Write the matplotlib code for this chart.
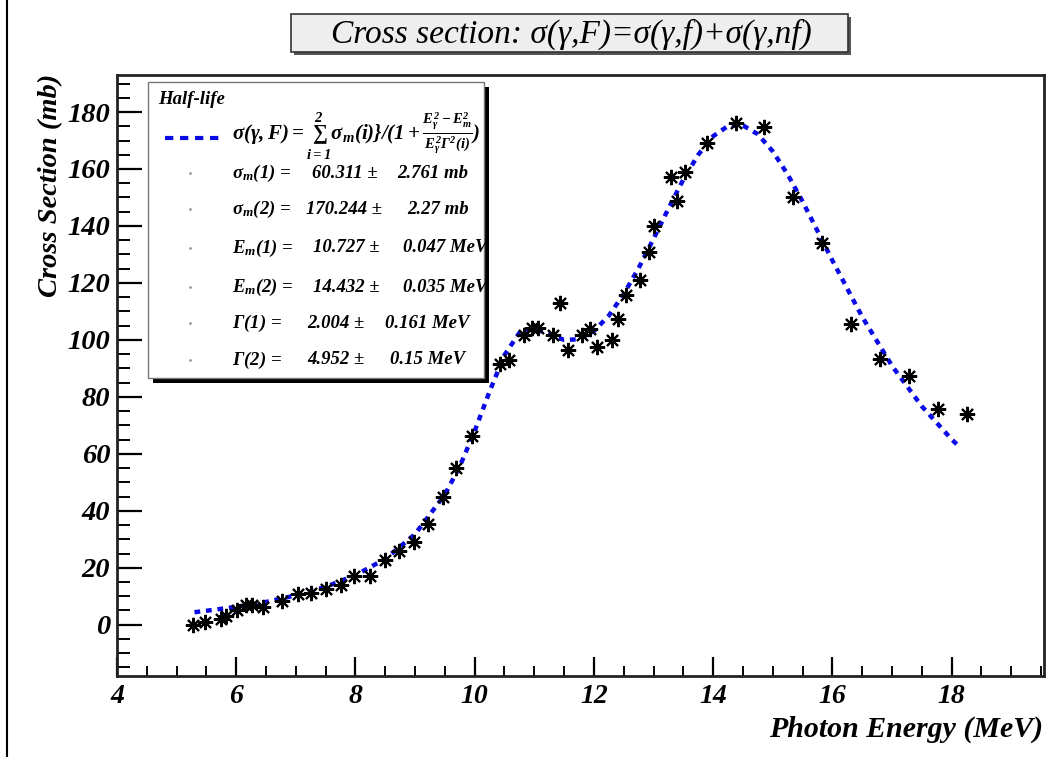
import matplotlib
matplotlib.use('Agg')
import matplotlib.pyplot as plt
from matplotlib.ticker import MultipleLocator
from matplotlib.patches import Rectangle

energy = [5.28, 5.47, 5.74, 5.83, 6.01, 6.16, 6.26, 6.45, 6.77, 7.04, 7.26, 7.51,
          7.75, 7.98, 8.25, 8.49, 8.73, 8.98, 9.22, 9.47, 9.69, 9.95, 10.43, 10.57,
          10.82, 10.96, 11.07, 11.31, 11.43, 11.56, 11.80, 11.93, 12.05, 12.30, 12.41,
          12.54, 12.77, 12.92, 13.01, 13.29, 13.40, 13.53, 13.89, 14.38, 14.85, 15.34,
          15.82, 16.31, 16.80, 17.29, 17.78, 18.26]
sigma = [0.0, 1.0, 2.0, 2.9, 5.0, 7.0, 7.0, 6.4, 8.5, 10.9, 11.3, 12.6,
         14.0, 17.0, 17.0, 22.8, 26.0, 29.0, 35.5, 45.0, 55.2, 66.3, 91.5, 93.0,
         101.8, 104.3, 104.3, 101.8, 113.0, 96.5, 101.8, 103.9, 97.6, 99.8, 107.4,
         115.7, 120.9, 131.0, 140.0, 157.3, 148.9, 158.8, 169.2, 176.1, 174.6, 150.0,
         133.9, 105.6, 93.2, 87.3, 75.8, 74.1]

# fitted curve
fit_e = [5.3, 5.5, 6.0, 6.5, 7.0, 7.5, 8.0, 8.5, 9.0, 9.5, 9.75, 10.0, 10.25, 10.5,
         10.75, 11.0, 11.25, 11.5, 11.75, 12.0, 12.25, 12.5, 12.75, 13.0, 13.25, 13.5,
         13.75, 14.0, 14.25, 14.5, 14.75, 15.0, 15.25, 15.5, 16.0, 16.5, 17.0, 17.5,
         18.0, 18.15]
fit_sigma = [4.4, 4.9, 6.3, 8.0, 10.3, 13.3, 17.4, 23.1, 31.8, 45.7, 55.6, 68.0, 81.9,
             94.7, 102.5, 104.0, 101.9, 100.0, 100.2, 103.1, 108.5, 116.1, 125.2, 135.5,
             146.1, 156.3, 165.0, 171.5, 175.1, 175.3, 172.2, 166.2, 158.1, 148.6, 127.9,
             108.1, 90.9, 76.7, 65.1, 62.1]

par_names = [r'$\mathsf{\sigma}_m(1)$ =', r'$\mathsf{\sigma}_m(2)$ =', r'$E_m(1)$ =',
             r'$E_m(2)$ =', r'$\mathsf{\Gamma}(1)$ =', r'$\mathsf{\Gamma}(2)$ =']
par_values = ['60.311', '170.244', '10.727', '14.432', '2.004', '4.952']
par_errors = ['2.761', '2.27', '0.047', '0.035', '0.161', '0.15']
par_units = ['mb', 'mb', 'MeV', 'MeV', 'MeV', 'MeV']

plt.rcParams['font.family'] = 'Liberation Serif'
plt.rcParams['font.style'] = 'italic'
plt.rcParams['font.weight'] = 'bold'
plt.rcParams['mathtext.fontset'] = 'custom'
plt.rcParams['mathtext.rm'] = 'Liberation Serif:italic:bold'
plt.rcParams['mathtext.it'] = 'Liberation Serif:italic:bold'
plt.rcParams['mathtext.bf'] = 'Liberation Serif:italic:bold'
plt.rcParams['mathtext.sf'] = 'Liberation Serif'

blue = '#0a0ae6'

fig = plt.figure(figsize=(10.47, 7.57), dpi=100)
ax = fig.add_axes([117 / 1047, 1 - 676 / 757, (1044 - 117) / 1047, (676 - 75) / 757])

ax.plot(fit_e, fit_sigma, color=blue, lw=3.2, ls=(0, (1.3, 1.3)), zorder=2)
ax.plot(energy, sigma, ls='none', marker=(8, 2, 0), ms=11, mew=1.5, color='black', zorder=3)

ax.set_xlim(4, 19.55)
ax.set_ylim(-18, 193)
ax.xaxis.set_major_locator(MultipleLocator(2))
ax.xaxis.set_minor_locator(MultipleLocator(0.5))
ax.yaxis.set_major_locator(MultipleLocator(20))
ax.yaxis.set_minor_locator(MultipleLocator(5))
ax.tick_params(axis='x', which='major', direction='in', length=14, width=1.6, pad=6, labelsize=20)
ax.tick_params(axis='x', which='minor', direction='in', length=7, width=1.4)
ax.tick_params(axis='y', which='major', direction='in', length=18, width=1.6, pad=5, labelsize=20.5)
ax.tick_params(axis='y', which='minor', direction='in', length=9, width=1.4)
for s in ax.spines.values():
    s.set_linewidth(2.0)
    s.set_color('#222222')

# overlay in pixel coordinates for the ROOT-style boxes and labels
ov = fig.add_axes([0, 0, 1, 1], zorder=5)
ov.set_xlim(0, 1047)
ov.set_ylim(757, 0)
ov.axis('off')
ov.patch.set_alpha(0)

ov.plot([7, 7], [0, 757], color='black', lw=1.5)

# title box
ov.add_patch(Rectangle((294, 17), 557, 38, facecolor='#555555', edgecolor='none'))
ov.add_patch(Rectangle((291, 14), 557, 38, facecolor='#eeeeee', edgecolor='#333333', lw=1.2))
ov.text(571, 34, 'Cross section: σ(γ,F)=σ(γ,f)+σ(γ,nf)', fontsize=24, fontweight='normal',
        ha='center', va='center')

# axis titles
ov.text(51, 74, 'Cross Section (mb)', rotation=90, fontsize=20.5, ha='center', va='top')
ov.text(1043, 729, 'Photon Energy (MeV)', fontsize=21.5, ha='right', va='center')

# legend box
ov.add_patch(Rectangle((153, 87), 336, 296, facecolor='black', edgecolor='none'))
box = Rectangle((148, 82), 336, 296, facecolor='white', edgecolor='#777777', lw=1.0)
ov.add_patch(box)
ov.text(158, 99, 'Half-life', fontsize=13.5, ha='left', va='center')
ov.plot([165, 220], [138, 138], color=blue, lw=3, ls=(0, (2, 1.6)))
ov.text(232, 136, r'$\mathsf{\sigma}(\mathsf{\gamma},F)=\sum_{i=1}^{2}\mathsf{\sigma}_m(i)\}/(1+'
        r'\frac{E_{\gamma}^{2}-E_{m}^{2}}{E_{\gamma}^{2}\mathsf{\Gamma}^{2}(i)})$',
        fontsize=15, fontweight='normal', ha='left', va='center')

row_y = [173, 209, 248, 287, 323, 360]
x_val = [312, 306, 313, 313, 307, 307]
x_err = [397, 407, 403, 403, 385, 390]
for i in range(len(par_names)):
    ov.plot(190, row_y[i], marker='.', ms=2, color='#999999')
    ov.text(232, row_y[i], par_names[i], fontsize=13.5, ha='left', va='center')
    ov.text(x_val[i], row_y[i], par_values[i] + ' ±', fontsize=13.5, ha='left', va='center')
    t = ov.text(x_err[i], row_y[i], par_errors[i] + ' ' + par_units[i], fontsize=13.5,
                ha='left', va='center')
    t.set_clip_path(box)

fig.savefig('out.png', dpi=100)
